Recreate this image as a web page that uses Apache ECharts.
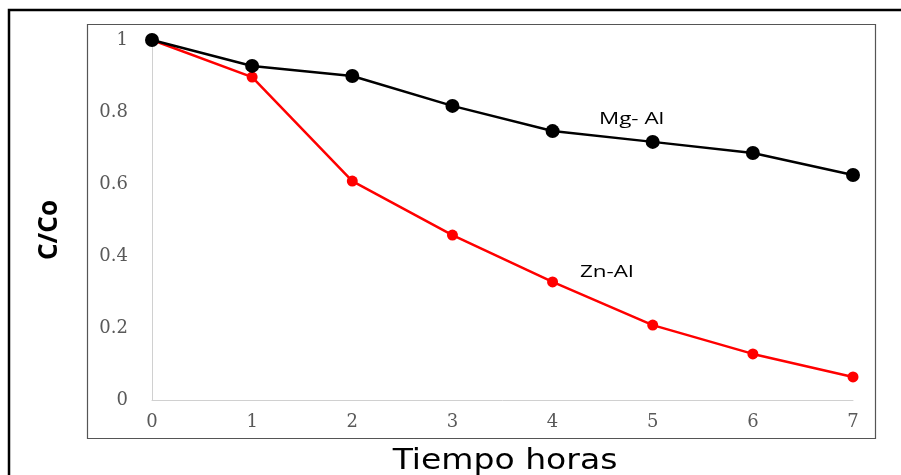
<!DOCTYPE html>
<html><head><meta charset="utf-8">
<script src="https://cdn.jsdelivr.net/npm/echarts@6/dist/echarts.min.js"></script>
<style>html,body{margin:0;padding:0;background:#fff;overflow:hidden}#c{width:901px;height:475px}</style>
</head><body><div id="c"></div>
<script>
const hours = [0,1,2,3,4,5,6,7];
const mgAl = [1, 0.928, 0.9, 0.817, 0.747, 0.717, 0.686, 0.625];
const znAl = [1, 0.897, 0.608, 0.458, 0.328, 0.208, 0.128, 0.064];
const yTicks = [0, 0.2, 0.4, 0.6, 0.8, 1];
const xTitle = 'Tiempo horas';
const yTitle = 'C/Co';
const seriesNames = ['Mg- Al', 'Zn-Al'];

const chart = echarts.init(document.getElementById('c'));
const serif = '"DejaVu Serif", "Liberation Serif", serif';
const sans = '"Open Sans", "Noto Sans", sans-serif';
chart.setOption({
  animation: false,
  grid: {left: 152, right: 48, top: 40, bottom: 75, containLabel: false, outerBoundsMode: 'none'},
  xAxis: {
    type: 'value', min: 0, max: 7, interval: 1,
    axisLine: {lineStyle: {color: '#d0d0d0', width: 1}},
    axisTick: {show: false},
    splitLine: {show: false},
    axisLabel: {color: '#595959', fontFamily: serif, fontSize: 18, margin: 13}
  },
  yAxis: {
    type: 'value', min: 0, max: 1, interval: 0.2,
    axisLine: {show: true, lineStyle: {color: '#d0d0d0', width: 1}},
    axisTick: {show: false},
    splitLine: {show: false},
    axisLabel: {color: '#595959', fontFamily: serif, fontSize: 18, margin: 24,
      formatter: v => String(Math.round(v * 10) / 10)}
  },
  series: [
    {name: seriesNames[1], type: 'line', data: hours.map((h, i) => [h, znAl[i]]),
      symbol: 'circle', symbolSize: 11, lineStyle: {color: '#ff0000', width: 2.5},
      itemStyle: {color: '#ff0000'}, z: 2},
    {name: seriesNames[0], type: 'line', data: hours.map((h, i) => [h, mgAl[i]]),
      symbol: 'circle', symbolSize: 14, lineStyle: {color: '#000', width: 2.5},
      itemStyle: {color: '#000'}, z: 3}
  ],
  graphic: [
    {type: 'rect', shape: {x: 9, y: 10, width: 1000, height: 1000}, silent: true,
      style: {fill: 'none', stroke: '#000', lineWidth: 2.5}, z: -10},
    {type: 'rect', shape: {x: 87.5, y: 24.5, width: 788, height: 414}, silent: true,
      style: {fill: 'none', stroke: '#555', lineWidth: 1.2}, z: -10},
    {type: 'text', x: 505, y: 462, scaleX: 1.18, silent: true,
      style: {text: xTitle, fill: '#000', font: '28px "DejaVu Sans", sans-serif',
        align: 'center', verticalAlign: 'middle'}},
    {type: 'text', x: 50, y: 230, rotation: Math.PI / 2, silent: true,
      style: {text: yTitle, fill: '#000', font: 'bold 26px ' + sans,
        align: 'center', verticalAlign: 'middle'}},
    {type: 'text', x: 599, y: 111, scaleX: 1.32, silent: true,
      style: {text: seriesNames[0], fill: '#000', font: '17px ' + sans}},
    {type: 'text', x: 580, y: 264, scaleX: 1.32, silent: true,
      style: {text: seriesNames[1], fill: '#000', font: '17px ' + sans}}
  ]
});
</script></body></html>
